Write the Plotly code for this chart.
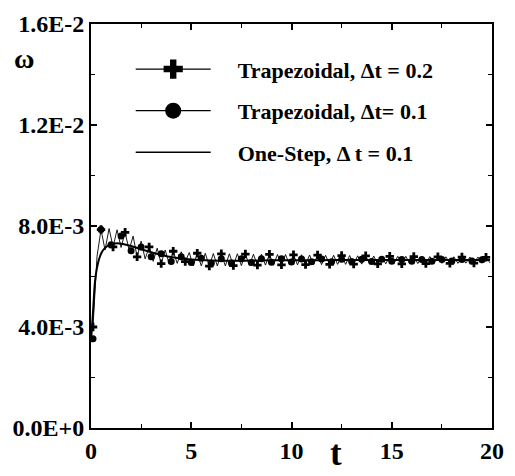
import plotly.graph_objects as go

# ---------------- data ----------------
# Trapezoidal, dt = 0.2 : full (oscillating) solution, t = 0.1, 0.3, ..., 19.9
trap02_t = [round(0.1 + 0.2 * i, 1) for i in range(100)]
trap02_w = [
    0.00400, 0.00680, 0.00786, 0.00705, 0.00790, 0.00717, 0.00785, 0.00715, 0.00775, 0.00705,
    0.00760, 0.00678, 0.00740, 0.00670, 0.00717, 0.00660, 0.00712, 0.00651, 0.00705, 0.00650,
    0.00700, 0.00652, 0.00698, 0.00659, 0.00695, 0.00642, 0.00692, 0.00642, 0.00692, 0.00641,
    0.00691, 0.00642, 0.00690, 0.00642, 0.00690, 0.00643, 0.00690, 0.00643, 0.00689, 0.00644,
    0.00688, 0.00645, 0.00688, 0.00645, 0.00688, 0.00645, 0.00687, 0.00646, 0.00687, 0.00646,
    0.00686, 0.00646, 0.00686, 0.00647, 0.00685, 0.00647, 0.00685, 0.00647, 0.00684, 0.00648,
    0.00684, 0.00648, 0.00683, 0.00648, 0.00683, 0.00649, 0.00682, 0.00649, 0.00682, 0.00649,
    0.00681, 0.00650, 0.00681, 0.00650, 0.00680, 0.00650, 0.00680, 0.00650, 0.00680, 0.00651,
    0.00679, 0.00651, 0.00679, 0.00651, 0.00679, 0.00652, 0.00678, 0.00652, 0.00678, 0.00652,
    0.00678, 0.00652, 0.00677, 0.00653, 0.00677, 0.00653, 0.00677, 0.00653, 0.00676, 0.00654,
]

# Trapezoidal, dt = 0.1 : plotted points (dots)
trap01_t = [0.1, 0.5, 1.0, 1.5, 2.0, 2.5, 3.0, 3.5, 4.0, 4.5,
            5.0, 5.5, 6.0, 6.5, 7.0, 7.5, 8.0, 8.5, 9.0, 9.5,
            10.0, 10.5, 11.0, 11.5, 12.0, 12.5, 13.0, 13.5, 14.0, 14.5,
            15.0, 15.5, 16.0, 16.5, 17.0, 17.5, 18.0, 18.5, 19.0, 19.5]
trap01_w = [0.00353, 0.00786, 0.00726, 0.00760, 0.00702, 0.00717, 0.00678, 0.00690, 0.00659, 0.00678,
            0.00655, 0.00672, 0.00652, 0.00670, 0.00653, 0.00670, 0.00655, 0.00670, 0.00656, 0.00670,
            0.00657, 0.00669, 0.00658, 0.00669, 0.00658, 0.00668, 0.00659, 0.00668, 0.00659, 0.00668,
            0.00660, 0.00667, 0.00660, 0.00667, 0.00660, 0.00667, 0.00661, 0.00667, 0.00661, 0.00666]

# One-Step, dt = 0.1 : smooth solution
onestep_t = [0.0, 0.05, 0.1, 0.2, 0.3, 0.4, 0.5, 0.6, 0.8, 1.0,
             1.2, 1.4, 1.7, 2.0, 2.5, 3.0, 3.5, 4.0, 4.5, 5.0,
             6.0, 7.0, 8.0, 9.0, 10.0, 12.0, 14.0, 16.0, 18.0, 19.9]
onestep_w = [0.00345, 0.00400, 0.00460, 0.00580, 0.00635, 0.00668, 0.00690, 0.00704, 0.00720, 0.00728,
             0.00731, 0.00731, 0.00727, 0.00721, 0.00708, 0.00696, 0.00686, 0.00677, 0.00671, 0.00667,
             0.00663, 0.00662, 0.00663, 0.00664, 0.00664, 0.00665, 0.00665, 0.00665, 0.00665, 0.00665]

y_tickvals = [0.0, 0.004, 0.008, 0.012, 0.016]
y_ticktext = ["0.0E+0", "4.0E-3", "8.0E-3", "1.2E-2", "1.6E-2"]
x_tickvals = [0, 5, 10, 15, 20]
x_ticktext = ["0", "5", "10", "15", "20"]

legend_names = ["Trapezoidal, \u0394t = 0.2", "Trapezoidal, \u0394t= 0.1", "One-Step, \u0394 t = 0.1"]

# plus markers are drawn at the first point and every third point after it
plus_idx = [0] + list(range(2, len(trap02_t), 3))
plus_t = [trap02_t[i] for i in plus_idx]
plus_w = [trap02_w[i] for i in plus_idx]

FONT = "Liberation Serif"
PAD = "\u00a0" * 4
fig = go.Figure()

# plot traces
fig.add_trace(go.Scatter(x=trap02_t, y=trap02_w, mode="lines",
                         line=dict(color="black", width=0.9), showlegend=False))
fig.add_trace(go.Scatter(x=onestep_t, y=onestep_w, mode="lines", line_shape="spline",
                         line=dict(color="black", width=2), showlegend=False))
fig.add_trace(go.Scatter(x=trap01_t, y=trap01_w, mode="markers",
                         marker=dict(symbol="circle", size=7, color="black"), showlegend=False))
fig.add_trace(go.Scatter(x=plus_t, y=plus_w, mode="markers",
                         marker=dict(symbol="cross", size=7, color="black"), showlegend=False))

# legend entries
fig.add_trace(go.Scatter(x=[None], y=[None], mode="lines+markers", name=PAD + "<b>%s</b>" % legend_names[0],
                         legendgroup="a", line=dict(color="black", width=1.2),
                         marker=dict(symbol="cross", size=16, color="black")))
fig.add_trace(go.Scatter(x=[None], y=[None], mode="lines+markers", name=PAD + "<b>%s</b>" % legend_names[1],
                         legendgroup="b", line=dict(color="black", width=1.2),
                         marker=dict(symbol="circle", size=16, color="black")))
fig.add_trace(go.Scatter(x=[None], y=[None], mode="lines", name=PAD + "<b>%s</b>" % legend_names[2],
                         legendgroup="c", line=dict(color="black", width=1.5)))

axis_common = dict(showline=True, linewidth=2, linecolor="black", mirror="ticks",
                   ticks="inside", ticklen=6, tickwidth=1.5, tickcolor="black",
                   showgrid=False, zeroline=False,
                   tickfont=dict(family=FONT, size=24, color="black"))

fig.update_xaxes(range=[0, 20], tickvals=x_tickvals, ticktext=["<b>%s</b>" % s for s in x_ticktext],
                 minor=dict(dtick=2.5, ticks="inside", ticklen=4, tickwidth=1.2, tickcolor="black"),
                 **axis_common)
fig.update_yaxes(range=[0, 0.016], tickvals=y_tickvals, ticktext=["<b>%s</b>" % s for s in y_ticktext],
                 minor=dict(dtick=0.002, ticks="inside", ticklen=4, tickwidth=1.2, tickcolor="black"),
                 **axis_common)

fig.add_annotation(text="<b>\u03c9</b>", xref="paper", yref="paper", x=-0.167, y=0.958,
                   xanchor="center", yanchor="top",
                   showarrow=False, font=dict(family=FONT, size=28, color="black"))
fig.add_annotation(text="<b>t</b>", xref="paper", yref="paper", x=0.61, y=-0.116,
                   xanchor="center", yanchor="bottom",
                   showarrow=False, font=dict(family=FONT, size=35, color="black"))

fig.update_layout(
    width=515, height=476,
    margin=dict(l=91, r=11, t=15, b=48),
    paper_bgcolor="white", plot_bgcolor="white",
    font=dict(family=FONT, color="black"),
    legend=dict(x=0.099, y=0.94, xanchor="left", yanchor="top",
                bgcolor="rgba(0,0,0,0)", itemwidth=75, tracegroupgap=10,
                font=dict(family=FONT, size=22, color="black")),
)

fig.write_html("out.html")
